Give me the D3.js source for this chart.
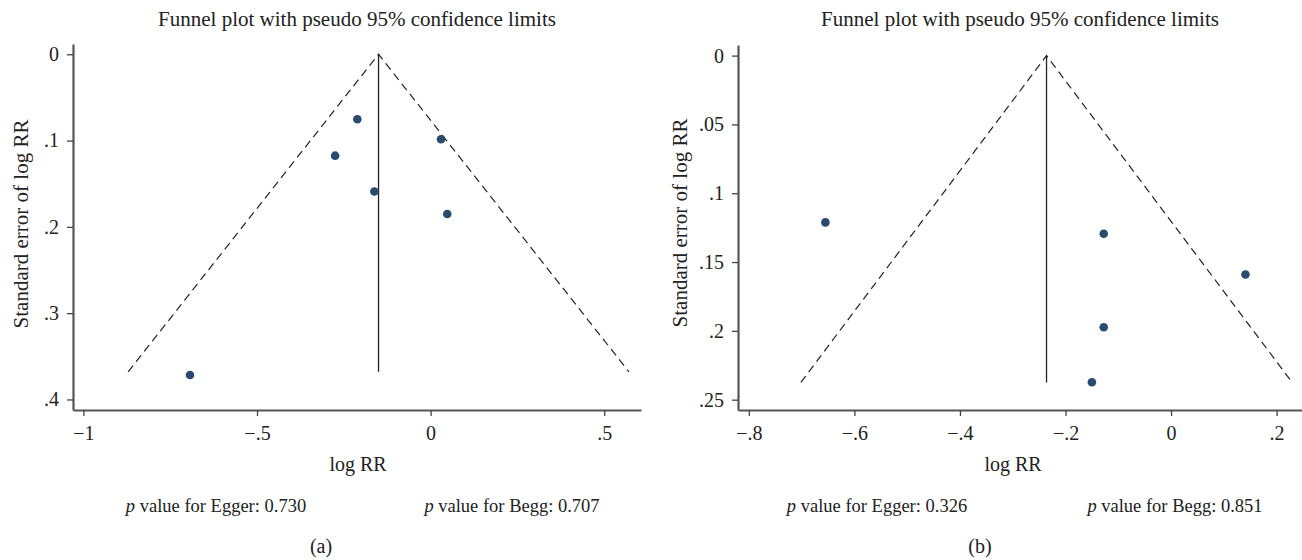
<!DOCTYPE html>
<html>
<head>
<meta charset="utf-8">
<script src="https://cdn.jsdelivr.net/npm/d3@7"></script>
<style>
  body { margin: 0; background: #fff; }
  text { font-family: 'Liberation Serif', 'DejaVu Serif', serif; fill: #222; }
</style>
</head>
<body>
<div id="chart"></div>
<script>
// panel (a)
const logRRa = [-0.211, -0.275, -0.162, 0.030, 0.048, -0.693];
const seA = [0.0753, 0.1175, 0.159, 0.0985, 0.185, 0.3716];
const pooledA = -0.15;
const seMaxA = 0.368;
const xTicksA = [-1, -0.5, 0, 0.5];
const yTicksA = [0, 0.1, 0.2, 0.3, 0.4];
const pA = ['0.730', '0.707'];

// panel (b)
const logRRb = [-0.655, -0.1276, 0.141, -0.1276, -0.150];
const seB = [0.1212, 0.1294, 0.159, 0.1974, 0.2373];
const pooledB = -0.236;
const seMaxB = 0.2375;
const xTicksB = [-0.8, -0.6, -0.4, -0.2, 0, 0.2];
const yTicksB = [0, 0.05, 0.1, 0.15, 0.2, 0.25];
const pB = ['0.326', '0.851'];

const W = 1302, H = 560;
const svg = d3.select('#chart').append('svg')
  .attr('width', W)
  .attr('height', H);

// Stata-style labels: ".5", "−.5", "0"
const fmt = v => {
  if (v === 0) return '0';
  let s = String(Math.abs(+v.toFixed(3))).replace(/^0/, '');
  return (v < 0 ? '\u2212' : '') + s;
};

const drawPanel = (cfg) => {
  const g = svg.append('g');
  const x = d3.scaleLinear().domain(cfg.xDomain).range([cfg.left, cfg.right]);
  const y = d3.scaleLinear().domain(cfg.yDomain).range([cfg.top, cfg.bottom]);

  g.append('text')
    .attr('x', cfg.titleX)
    .attr('y', 26)
    .attr('text-anchor', 'middle')
    .style('font-size', '21px')
    .text('Funnel plot with pseudo 95% confidence limits');

  // axes
  const xAxis = g.append('g')
    .attr('transform', `translate(0,${cfg.bottom})`)
    .call(d3.axisBottom(x).tickValues(cfg.xTicks).tickFormat(fmt).tickSize(6).tickPadding(10).tickSizeOuter(0));
  const yAxis = g.append('g')
    .attr('transform', `translate(${cfg.left},0)`)
    .call(d3.axisLeft(y).tickValues(cfg.yTicks).tickFormat(fmt).tickSize(6).tickPadding(8).tickSizeOuter(0));
  [xAxis, yAxis].forEach(a => {
    a.select('.domain').attr('stroke', '#555').attr('stroke-width', 2.2);
    a.selectAll('.tick line').attr('stroke', '#444').attr('stroke-width', 1.3);
    a.selectAll('.tick text')
      .style('font-family', "'Liberation Serif', serif")
      .style('font-size', '20px')
      .attr('fill', '#222');
  });

  // funnel
  const lo = cfg.pooled - 1.96 * cfg.seMax;
  const hi = cfg.pooled + 1.96 * cfg.seMax;
  g.append('path')
    .attr('d', d3.line()([[x(lo), y(cfg.seMax)], [x(cfg.pooled), y(0)], [x(hi), y(cfg.seMax)]]))
    .attr('fill', 'none')
    .attr('stroke', '#222')
    .attr('stroke-width', 1.2)
    .attr('stroke-dasharray', '8,5');
  g.append('line')
    .attr('x1', x(cfg.pooled)).attr('x2', x(cfg.pooled))
    .attr('y1', y(0)).attr('y2', y(cfg.seMax))
    .attr('stroke', '#222')
    .attr('stroke-width', 1.3);

  g.selectAll('.dot')
    .data(cfg.xs.map((v, i) => ({ x: v, se: cfg.ses[i] })))
    .enter().append('circle')
    .attr('class', 'dot')
    .attr('cx', d => x(d.x))
    .attr('cy', d => y(d.se))
    .attr('r', 4.3)
    .attr('fill', '#2a4a70');

  g.append('text')
    .attr('transform', `translate(${cfg.ylabX},${cfg.ylabY}) rotate(-90)`)
    .attr('text-anchor', 'middle')
    .style('font-size', '21px')
    .text('Standard error of log RR');

  g.append('text')
    .attr('x', cfg.xlabX)
    .attr('y', 471)
    .attr('text-anchor', 'middle')
    .style('font-size', '20px')
    .text('log RR');

  const pText = (cx, label, val) => {
    const t = g.append('text')
      .attr('x', cx)
      .attr('y', 512)
      .attr('text-anchor', 'middle')
      .style('font-size', '18.5px');
    t.append('tspan').style('font-style', 'italic').text('p');
    t.append('tspan').text(` value for ${label}: ${val}`);
  };
  pText(cfg.eggerX, 'Egger', cfg.p[0]);
  pText(cfg.beggX, 'Begg', cfg.p[1]);

  g.append('text')
    .attr('x', cfg.capX)
    .attr('y', 553)
    .attr('text-anchor', 'middle')
    .style('font-size', '20px')
    .text(cfg.cap);
};

drawPanel({
  left: 73, right: 641, top: 44, bottom: 410,
  xDomain: [-1.030, 0.606], yDomain: [-0.0119, 0.4122],
  xTicks: xTicksA, yTicks: yTicksA,
  xs: logRRa, ses: seA, pooled: pooledA, seMax: seMaxA,
  titleX: 357, ylabX: 28, ylabY: 224, xlabX: 358,
  eggerX: 216, beggX: 512, capX: 321,
  p: pA, cap: '(a)'
});

drawPanel({
  left: 738, right: 1302, top: 45, bottom: 410,
  xDomain: [-0.8206, 0.2481], yDomain: [-0.0077, 0.2575],
  xTicks: xTicksB, yTicks: yTicksB,
  xs: logRRb, ses: seB, pooled: pooledB, seMax: seMaxB,
  titleX: 1020, ylabX: 687, ylabY: 223, xlabX: 1013,
  eggerX: 877, beggX: 1175, capX: 980,
  p: pB, cap: '(b)'
});
</script>
</body>
</html>
